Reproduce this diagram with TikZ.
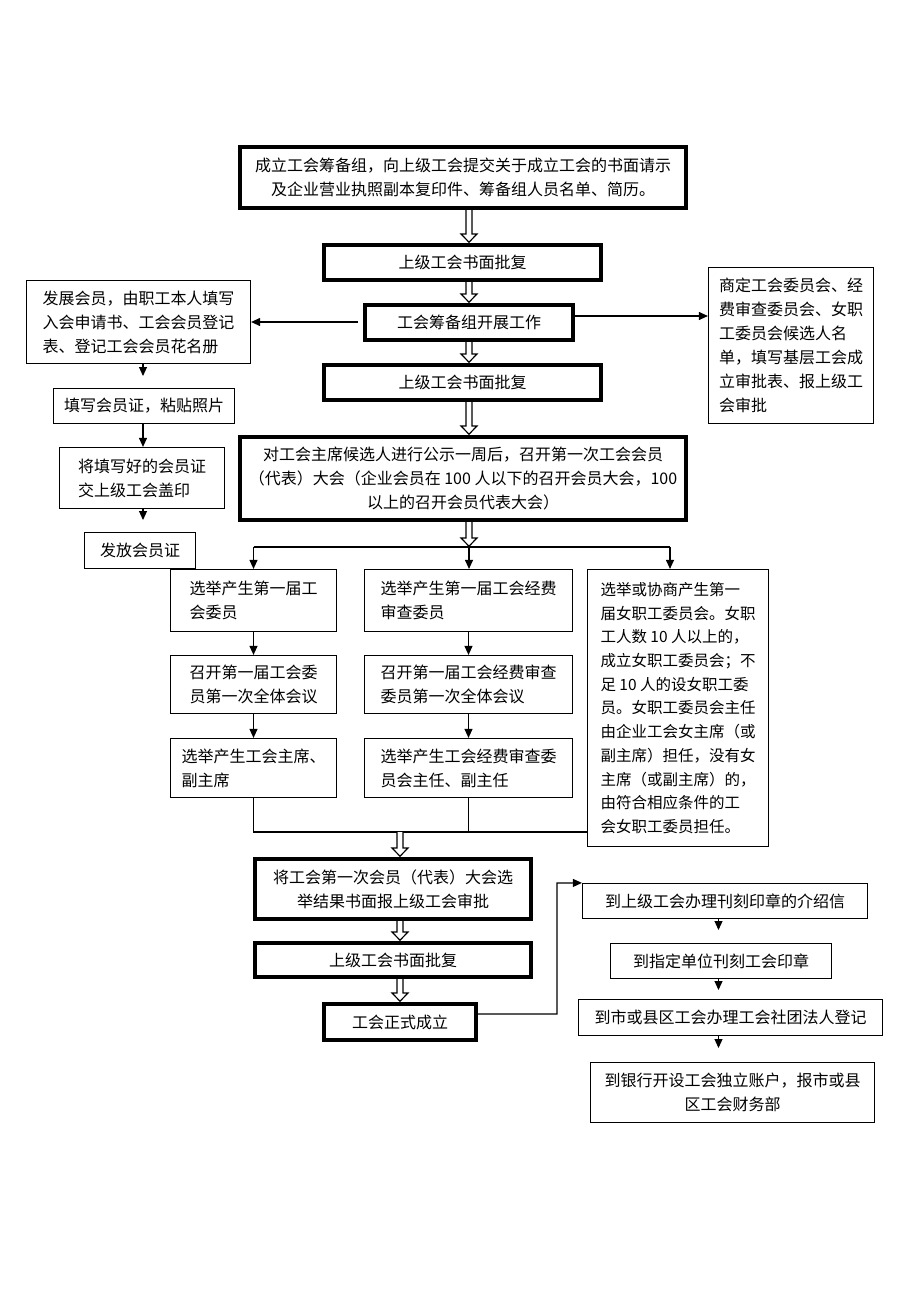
\documentclass[tikz,border=0pt]{standalone}
\usepackage{fontspec}
\setmainfont{Noto Sans CJK SC}
\usetikzlibrary{arrows.meta,calc}
\begin{document}
\begin{tikzpicture}[x=1pt,y=-1pt,
  every node/.style={font=\fontsize{16}{24}\selectfont, inner sep=0pt},
  thinbox/.style={draw, line width=1.2pt},
  thickbox/.style={draw, line width=4pt},
  darrow/.style={draw, line width=1.2pt, fill=white, line join=miter,
    to path={let \p1=(\tikztostart), \p2=(\tikztotarget) in
      (\x1-3pt,\y1) -- (\x1-3pt,\y2+9pt) -- (\x1-8pt,\y2+9pt) -- (\x1,\y2+0.8pt)
      -- (\x1+8pt,\y2+9pt) -- (\x1+3pt,\y2+9pt) -- (\x1+3pt,\y1)}},
  sarrow/.style={line width=1.1pt, -{Triangle[length=9pt,width=8pt]}},
  link/.style={line width=1.1pt}]
\useasboundingbox[fill=white] (0,0) rectangle (920,1302);

% thick main column
\node[thickbox, minimum width=446pt, minimum height=61pt, align=center] (A) at (463,177.5)
  {成立工会筹备组，向上级工会提交关于成立工会的书面请示\\及企业营业执照副本复印件、筹备组人员名单、简历。};
\node[thickbox, minimum width=277pt, minimum height=35pt] (B) at (462.5,262.5) {上级工会书面批复};
\node[thickbox, minimum width=208pt, minimum height=35pt] (C) at (469,322.5) {工会筹备组开展工作};
\node[thickbox, minimum width=277pt, minimum height=35pt] (D) at (462.5,382.5) {上级工会书面批复};
\node[thickbox, minimum width=446pt, minimum height=83pt, align=center] (E) at (463,478.5)
  {对工会主席候选人进行公示一周后，召开第一次工会会员\\（代表）大会（企业会员在 100 人以下的召开会员大会，100\\以上的召开会员代表大会）};

% left column
\node[thinbox, minimum width=224pt, minimum height=83pt, align=left] (L1) at (138.5,322)
  {发展会员，由职工本人填写\\入会申请书、工会会员登记\\表、登记工会会员花名册};
\node[thinbox, minimum width=181pt, minimum height=35pt] (L2) at (144,406) {填写会员证，粘贴照片};
\node[thinbox, minimum width=165pt, minimum height=61pt, align=left] (L3) at (142,478)
  {将填写好的会员证\\交上级工会盖印};
\node[thinbox, minimum width=111pt, minimum height=36pt] (L4) at (140,550.5) {发放会员证};

% right box
\node[thinbox, minimum width=165pt, minimum height=156pt, align=left] (R1) at (791,345.5)
  {商定工会委员会、经\\费审查委员会、女职\\工委员会候选人名\\单，填写基层工会成\\立审批表、报上级工\\会审批};

% three branches
\node[thinbox, minimum width=166pt, minimum height=62pt, align=left] (a1) at (253.5,600.5)
  {选举产生第一届工\\会委员};
\node[thinbox, minimum width=166pt, minimum height=58pt, align=left] (a2) at (253.5,684.5)
  {召开第一届工会委\\员第一次全体会议};
\node[thinbox, minimum width=166pt, minimum height=59pt, align=left] (a3) at (253.5,768)
  {选举产生工会主席、\\副主席};
\node[thinbox, minimum width=208pt, minimum height=62pt, align=left] (b1) at (468.5,600.5)
  {选举产生第一届工会经费\\审查委员};
\node[thinbox, minimum width=208pt, minimum height=58pt, align=left] (b2) at (468.5,684.5)
  {召开第一届工会经费审查\\委员第一次全体会议};
\node[thinbox, minimum width=208pt, minimum height=59pt, align=left] (b3) at (468.5,768)
  {选举产生工会经费审查委\\员会主任、副主任};
\node[thinbox, minimum width=181pt, minimum height=277pt, align=left,
      font=\fontsize{15.5}{23.7}\selectfont] (c1) at (678,708)
  {选举或协商产生第一\\届女职工委员会。女职\\工人数 10 人以上的，\\成立女职工委员会；不\\足 10 人的设女职工委\\员。女职工委员会主任\\由企业工会女主席（或\\副主席）担任，没有女\\主席（或副主席）的，\\由符合相应条件的工\\会女职工委员担任。};

% bottom thick column
\node[thickbox, minimum width=276pt, minimum height=60pt, align=center] (F) at (393,889)
  {将工会第一次会员（代表）大会选\\举结果书面报上级工会审批};
\node[thickbox, minimum width=276pt, minimum height=34pt] (G) at (393,960) {上级工会书面批复};
\node[thickbox, minimum width=152pt, minimum height=36pt] (H) at (400,1022) {工会正式成立};

% bottom right column
\node[thinbox, minimum width=285pt, minimum height=35pt] (P1) at (725,901) {到上级工会办理刊刻印章的介绍信};
\node[thinbox, minimum width=221pt, minimum height=35pt] (P2) at (721,961) {到指定单位刊刻工会印章};
\node[thinbox, minimum width=304pt, minimum height=36pt] (P3) at (730.5,1017.5) {到市或县区工会办理工会社团法人登记};
\node[thinbox, minimum width=284pt, minimum height=60pt, align=center] (P4) at (732.5,1092.5)
  {到银行开设工会独立账户，报市或县\\区工会财务部};

% coordinates
\coordinate (mx) at (469,0);
\coordinate (lx) at (143,0);
\coordinate (px) at (718.5,0);
\coordinate (br) at (469,547);
\coordinate (brL) at (253.5,547);
\coordinate (brR) at (670,547);
\coordinate (t1) at (143,376);
\coordinate (t2) at (143,520);
\coordinate (Cl) at (358,322);
\coordinate (mg) at (400,832);
\coordinate (mgL) at (253.5,832);
\coordinate (turn) at (557,1014);
\coordinate (turn2) at (557,883);
\coordinate (q1) at (718.5,930);
\coordinate (q2) at (718.5,990);
\coordinate (q3) at (718.5,1048);

% branch lines first (double arrow drawn on top)
\draw[link] (brL) -- (brR);
\draw[link] (a3.south) -- (mgL) -- (c1.west |- mgL);
\draw[link] (b3.south) -- (b3.south |- mgL);

% double arrows
\draw[darrow] (A.south -| mx) to (B.north -| mx);
\draw[darrow] (B.south -| mx) to (C.north -| mx);
\draw[darrow] (C.south -| mx) to (D.north -| mx);
\draw[darrow] (D.south -| mx) to (E.north -| mx);
\draw[darrow] (E.south -| mx) to (br);
\draw[darrow] (mg) to (F.north -| mg);
\draw[darrow] (F.south -| mg) to (G.north -| mg);
\draw[darrow] (G.south -| mg) to (H.north -| mg);

% side arrows
\draw[sarrow] (Cl) -- (L1.east |- Cl);
\draw[sarrow] (C.east |- 0,316) -- (R1.west |- 0,316);
\draw[sarrow] (L1.south -| lx) -- (t1);
\draw[sarrow] (L2.south -| lx) -- (L3.north -| lx);
\draw[sarrow] (L3.south -| lx) -- (t2);

% branch arrows
\draw[sarrow] (brL) -- (a1.north);
\draw[sarrow] (br) -- (b1.north -| br);
\draw[sarrow] (brR) -- (c1.north -| brR);
\draw[sarrow] (a1.south) -- (a2.north);
\draw[sarrow] (a2.south) -- (a3.north);
\draw[sarrow] (b1.south) -- (b2.north);
\draw[sarrow] (b2.south) -- (b3.north);

% bottom connectors
\draw[sarrow] (H.east |- turn) -- (turn) -- (turn2) -- (P1.north west);
\draw[sarrow] (P1.south -| px) -- (q1);
\draw[sarrow] (P2.south -| px) -- (q2);
\draw[sarrow] (P3.south -| px) -- (q3);
\end{tikzpicture}
\end{document}
